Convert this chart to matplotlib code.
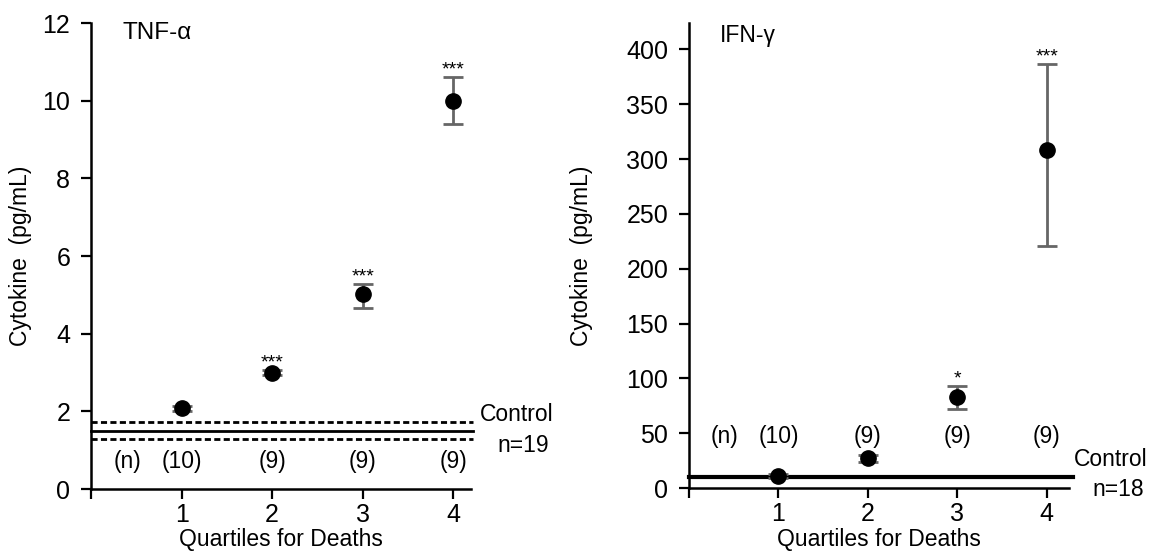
import matplotlib
matplotlib.use("Agg")
import matplotlib.pyplot as plt

plt.rcParams['font.family'] = ['Liberation Sans', 'DejaVu Sans']

# Квартили и подписи
quartiles = [1, 2, 3, 4]
n_labels = ["(10)", "(9)", "(9)", "(9)"]

# TNF-α
tnf_mean = [2.08, 3.0, 5.02, 10.0]
tnf_err_low = [0.07, 0.07, 0.35, 0.6]
tnf_err_high = [0.07, 0.07, 0.27, 0.62]
tnf_stars = ["", "***", "***", "***"]
tnf_control = 1.5
tnf_control_sd = [1.73, 1.28]

# IFN-γ
ifn_mean = [11, 27, 83, 308]
ifn_err_low = [2, 3, 11, 87]
ifn_err_high = [2, 3, 10, 79]
ifn_stars = ["", "", "*", "***"]
ifn_control = 10

fig = plt.figure(figsize=(11.65, 5.55), dpi=100)
ax1 = fig.add_axes([0.0781, 0.1189, 0.3266, 0.8396])
ax2 = fig.add_axes([0.5914, 0.1207, 0.3262, 0.8378])

FS = 16.5
TICK_FS = 18
GREY = "#666666"


def style(ax):
    for s in ["top", "right"]:
        ax.spines[s].set_visible(False)
    for s in ["left", "bottom"]:
        ax.spines[s].set_linewidth(1.8)
    ax.tick_params(direction="out", length=7, width=1.6, labelsize=TICK_FS)
    ax.tick_params(axis="y", pad=8)
    ax.tick_params(axis="x", pad=3)
    ax.set_xticks([0] + quartiles)
    ax.set_xticklabels([""] + [str(q) for q in quartiles])
    ax.set_xlabel("Quartiles for Deaths", fontsize=FS)
    ax.set_ylabel("Cytokine  (pg/mL)", fontsize=FS)


# --- TNF-α ---
ax = ax1
style(ax)
ax.set_xlim(0, 4.2)
ax.set_ylim(0, 12)
ax.set_yticks(range(0, 13, 2))
ax.plot([0, 4.22], [tnf_control] * 2, color="black", lw=2, clip_on=False)
for v in tnf_control_sd:
    ax.plot([0, 4.22], [v, v], color="black", lw=2, ls=(0, (2.2, 1.2)), clip_on=False)
ax.errorbar(quartiles, tnf_mean, yerr=[tnf_err_low, tnf_err_high], fmt="o",
            color="black", ms=11, ecolor=GREY, elinewidth=2, capsize=7, capthick=2, zorder=3)
for q, m, e, s in zip(quartiles, tnf_mean, tnf_err_high, tnf_stars):
    if s:
        ax.annotate(s, (q, m + e), xytext=(0, -1), textcoords="offset points",
                    ha="center", va="bottom", fontsize=14)
ax.text(0.4, 0.72, "(n)", ha="center", va="center", fontsize=FS)
for q, t in zip(quartiles, n_labels):
    ax.text(q, 0.72, t, ha="center", va="center", fontsize=FS)
ax.text(4.29, 1.93, "Control", ha="left", va="center", fontsize=FS, clip_on=False)
ax.text(4.49, 1.13, "n=19", ha="left", va="center", fontsize=FS, clip_on=False)
ax.text(0.084, 0.978, "TNF-α", transform=ax.transAxes, ha="left", va="center", fontsize=17.5)
ax.yaxis.set_label_coords(-0.155, 0.5)
ax.xaxis.set_label_coords(0.5, -0.083)

# --- IFN-γ ---
ax = ax2
style(ax)
ax.set_xlim(0, 4.25)
ax.set_ylim(0, 424)
ax.set_yticks(range(0, 401, 50))
ax.plot([0, 4.3], [ifn_control] * 2, color="black", lw=3, clip_on=False, zorder=2)
ax.errorbar(quartiles, ifn_mean, yerr=[ifn_err_low, ifn_err_high], fmt="o",
            color="black", ms=11, ecolor=GREY, elinewidth=2, capsize=7, capthick=2, zorder=3)
for q, m, e, s in zip(quartiles, ifn_mean, ifn_err_high, ifn_stars):
    if s:
        ax.annotate(s, (q, m + e), xytext=(0, -1), textcoords="offset points",
                    ha="center", va="bottom", fontsize=14)
ax.text(0.4, 47, "(n)", ha="center", va="center", fontsize=FS)
for q, t in zip(quartiles, n_labels):
    ax.text(q, 47, t, ha="center", va="center", fontsize=FS)
ax.text(4.31, 26, "Control", ha="left", va="center", fontsize=FS, clip_on=False)
ax.text(4.51, -1, "n=18", ha="left", va="center", fontsize=FS, clip_on=False)
ax.text(0.082, 0.974, "IFN-γ", transform=ax.transAxes, ha="left", va="center", fontsize=FS)
ax.yaxis.set_label_coords(-0.253, 0.5)
ax.xaxis.set_label_coords(0.5, -0.086)

fig.savefig("out.png", dpi=100)
